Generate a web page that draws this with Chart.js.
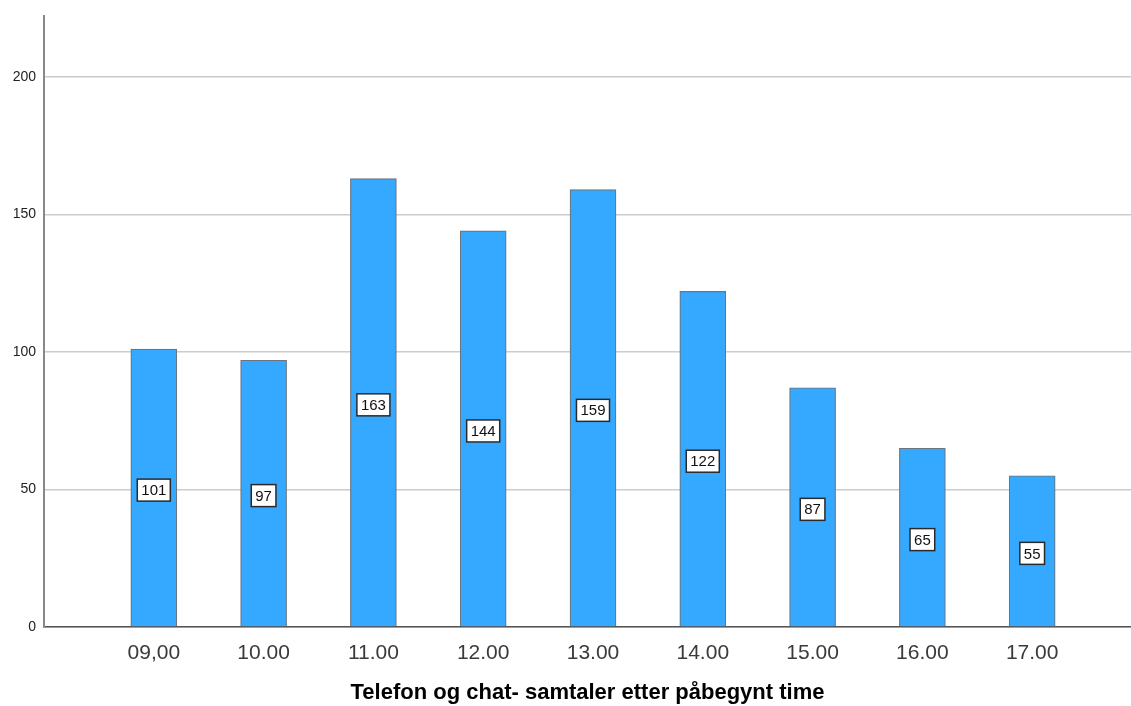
<!DOCTYPE html>
<html>
<head>
<meta charset="utf-8">
<script src="https://cdn.jsdelivr.net/npm/chart.js@4/dist/chart.umd.min.js"></script>
<style>
  html, body { margin: 0; padding: 0; background: #fff; }
  #wrap { width: 1131px; height: 706px; }
</style>
</head>
<body>
<div id="wrap"><canvas id="c" width="1131" height="706"></canvas></div>
<script>
// Calls started per hour
const hours = ['09,00', '10.00', '11.00', '12.00', '13.00', '14.00', '15.00', '16.00', '17.00'];
const calls = [101, 97, 163, 144, 159, 122, 87, 65, 55];
const yTicks = [0, 50, 100, 150, 200];

const points = hours.map((h, i) => ({ x: i + 1, y: calls[i] }));

// Boxed value labels placed halfway up each bar
const boxedLabels = {
  id: 'boxedLabels',
  afterDatasetsDraw(chart) {
    const ctx = chart.ctx;
    const meta = chart.getDatasetMeta(0);
    const yScale = chart.scales.y;
    ctx.save();
    ctx.font = '15px "Liberation Sans", Arial, sans-serif';
    ctx.textAlign = 'center';
    ctx.textBaseline = 'middle';
    meta.data.forEach((bar, i) => {
      const v = calls[i];
      const cx = bar.x;
      const cy = yScale.getPixelForValue(v / 2) + 2;
      const txt = String(v);
      const w = ctx.measureText(txt).width + 8;
      const h = 22;
      ctx.fillStyle = '#ffffff';
      ctx.fillRect(cx - w / 2, cy - h / 2, w, h);
      ctx.strokeStyle = '#2a2a2a';
      ctx.lineWidth = 1.5;
      ctx.strokeRect(cx - w / 2, cy - h / 2, w, h);
      ctx.fillStyle = '#111111';
      ctx.fillText(txt, cx, cy + 1);
    });
    ctx.restore();
  }
};

new Chart(document.getElementById('c'), {
  type: 'bar',
  data: {
    datasets: [{
      data: points,
      backgroundColor: '#35a9ff',
      borderColor: '#6a7580',
      borderWidth: 1.2,
      barThickness: 46
    }]
  },
  options: {
    responsive: false,
    animation: false,
    layout: { padding: { top: 13, right: 0, left: 0, bottom: 0 } },
    plugins: { legend: { display: false }, tooltip: { enabled: false } },
    scales: {
      x: {
        type: 'linear',
        offset: false,
        min: 0,
        max: 9.9,
        afterBuildTicks(scale) {
          scale.ticks = hours.map((h, i) => ({ value: i + 1 }));
        },
        afterFit(scale) { scale.height = 79; },
        grid: { display: false, drawTicks: false },
        border: { color: '#555555', width: 1.5 },
        ticks: {
          autoSkip: false,
          maxRotation: 0,
          padding: 14,
          color: '#3a3a3a',
          font: { family: '"Liberation Sans", Arial, sans-serif', size: 21 },
          callback(v) { return hours[v - 1] ?? ''; }
        },
        title: {
          display: true,
          text: 'Telefon og chat- samtaler etter påbegynt time',
          color: '#000000',
          font: { family: '"Liberation Sans", Arial, sans-serif', size: 22, weight: 'bold' },
          padding: { top: 14, bottom: 0 }
        }
      },
      y: {
        min: 0,
        max: 222,
        afterBuildTicks(scale) {
          scale.ticks = yTicks.map(v => ({ value: v }));
        },
        afterFit(scale) { scale.width = 44; },
        grid: { color: '#cccccc', lineWidth: 1.5, drawTicks: false },
        border: { color: '#888888', width: 2 },
        ticks: {
          padding: 8,
          color: '#222222',
          font: { family: '"Liberation Sans", Arial, sans-serif', size: 14 }
        }
      }
    }
  },
  plugins: [boxedLabels]
});
</script>
</body>
</html>
